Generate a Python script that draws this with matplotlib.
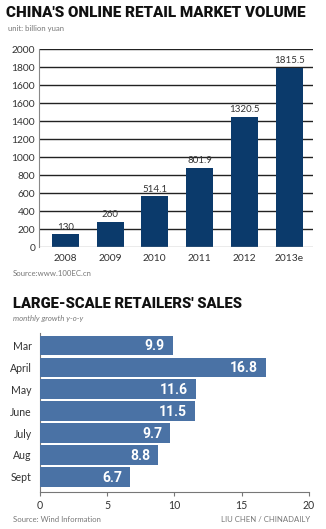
import matplotlib.pyplot as plt
import numpy as np

# online retail market volume, billion yuan
years = ['2008', '2009', '2010', '2011', '2012', '2013e']
volume = [130, 260, 514.1, 801.9, 1320.5, 1815.5]
volume_labels = ['130', '260', '514.1', '801.9', '1320.5', '1815.5']
ytick_labels = ['0', '200', '400', '600', '800', '1000', '1200', '1400',
                '1600', '1600', '1800', '2000']

# large-scale retailers' sales, monthly growth y-o-y
months = ['Mar', 'April', 'May', 'June', 'July', 'Aug', 'Sept']
growth = [9.9, 16.8, 11.6, 11.5, 9.7, 8.8, 6.7]
xtick_vals = [0, 5, 10, 15, 20]

W, H = 326, 529
navy = '#0b3a6b'
steel = '#4a72a5'
txt = '#333333'
grey = '#777777'
light_font = ['Lato', 'DejaVu Sans']
head_font = ['Roboto', 'DejaVu Sans']

fig = plt.figure(figsize=(W / 100, H / 100), dpi=100)
fig.patch.set_facecolor('white')


def px_axes(x0, y0, x1, y1):
    # axes placed by pixel box (top-left origin)
    return fig.add_axes([x0 / W, 1 - y1 / H, (x1 - x0) / W, (y1 - y0) / H])


# headings
fig.text(6 / W, 1 - 13 / H, "CHINA'S ONLINE RETAIL MARKET VOLUME",
         fontsize=10.9, fontweight='heavy', family=head_font,
         color='#111111', va='center', ha='left')
fig.text(8 / W, 1 - 29 / H, 'unit: billion yuan', fontsize=5.6,
         family=light_font, color=grey, va='center')

# top chart: vertical bars
ax1 = px_axes(39.3, 49.3, 313, 247.3)
x = np.arange(len(years))
ax1.bar(x, volume, width=0.6, color=navy, zorder=3)
top = 2000
ticks = np.linspace(0, top, len(ytick_labels))
for t in ticks[1:]:
    ax1.axhline(t, color='#222222', lw=1.0, zorder=1)
ax1.axhline(0, color='#999999', lw=1.0, zorder=4)
ax1.set_xlim(-0.58, 5.53)
ax1.set_ylim(0, top)
ax1.set_yticks(ticks)
ax1.set_yticklabels(ytick_labels)
ax1.set_xticks(x)
ax1.set_xticklabels(years)
ax1.tick_params(length=0, labelsize=7.4, colors=txt, pad=3)
for lab in ax1.get_xticklabels() + ax1.get_yticklabels():
    lab.set_family(light_font)
ax1.tick_params(axis='x', pad=5)
for s in ['top', 'right', 'bottom']:
    ax1.spines[s].set_visible(False)
ax1.spines['left'].set_color('#888888')
ax1.spines['left'].set_linewidth(0.8)
for xi, v, lab in zip(x, volume, volume_labels):
    ax1.text(xi, v + 25, lab, ha='center', va='bottom', fontsize=7,
             family=light_font, color=txt, zorder=5)

fig.text(13 / W, 1 - 274 / H, 'Source:www.100EC.cn', fontsize=5.6,
         family=light_font, color=grey, va='center')

# lower headings
fig.text(13 / W, 1 - 304 / H, "LARGE-SCALE RETAILERS' SALES",
         fontsize=10.6, fontweight='heavy', family=head_font,
         color='#111111', va='center', ha='left')
fig.text(13 / W, 1 - 319 / H, 'monthly growth y-o-y', fontsize=5.6,
         family=light_font, color=grey, va='center', style='italic')

# bottom chart: horizontal bars
ax2 = px_axes(40, 333.3, 308.7, 491.7)
y = np.arange(len(months))
ax2.barh(y, growth, height=0.9, color=steel, zorder=3)
ax2.set_ylim(6.68, -0.56)
ax2.set_xlim(0, 20)
ax2.set_yticks(y)
ax2.set_yticklabels(months)
ax2.set_xticks(xtick_vals)
ax2.tick_params(axis='y', length=0, pad=6, labelsize=7.6, colors=txt)
ax2.tick_params(axis='x', length=3, width=0.8, color='#777777',
                pad=3, labelsize=7.6, labelcolor=txt)
for lab in ax2.get_xticklabels() + ax2.get_yticklabels():
    lab.set_family(light_font)
for s in ['top', 'right']:
    ax2.spines[s].set_visible(False)
for s in ['left', 'bottom']:
    ax2.spines[s].set_color('#777777')
    ax2.spines[s].set_linewidth(0.8)
for yi, v in zip(y, growth):
    ax2.text(v - 0.6, yi + 0.04, f'{v}', ha='right', va='center',
             fontsize=10, fontweight='bold', family=head_font,
             color='white', zorder=5)

fig.text(13 / W, 1 - 520 / H, 'Source: Wind Information', fontsize=5.6,
         family=light_font, color=grey, va='center')
fig.text(310 / W, 1 - 520 / H, 'LIU CHEN / CHINADAILY', fontsize=5.6,
         family=light_font, color=grey, va='center', ha='right')

fig.savefig('out.png', dpi=100)
